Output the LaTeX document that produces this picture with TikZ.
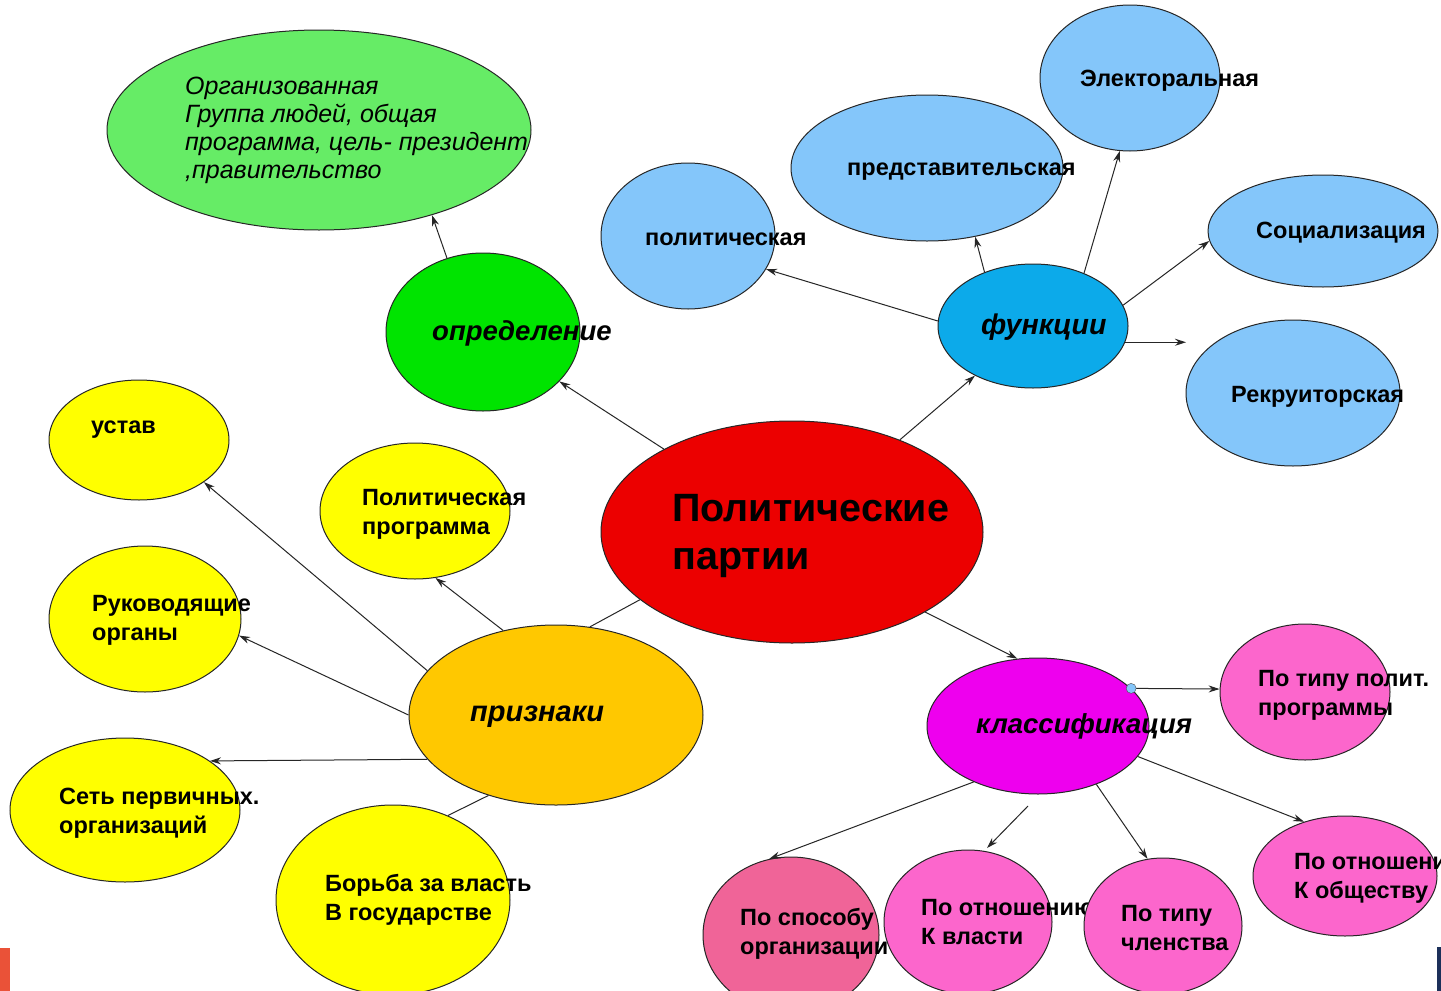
\documentclass[tikz,border=0pt]{standalone}
\usepackage{fontspec}
\setmainfont{Liberation Sans}
\usetikzlibrary{shapes.geometric, arrows.meta}

\definecolor{defgreen}{RGB}{102,236,102}
\definecolor{brightgreen}{RGB}{0,228,0}
\definecolor{partyred}{RGB}{236,0,0}
\definecolor{funcblue}{RGB}{12,170,234}
\definecolor{lightblue}{RGB}{132,198,250}
\definecolor{classmag}{RGB}{238,0,238}
\definecolor{pinkish}{RGB}{252,102,204}
\definecolor{rosepink}{RGB}{240,100,152}
\definecolor{signorange}{RGB}{255,200,0}
\definecolor{signyellow}{RGB}{255,255,0}
\definecolor{barred}{RGB}{234,82,56}
\definecolor{barnavy}{RGB}{28,48,90}

\tikzset{
>={Stealth[length=11pt,width=7pt]}, % small filled arrow heads
bubble/.style 2 args={ellipse, draw=black!85, line width=1pt, minimum width=#1, minimum height=#2, inner sep=0pt}, % every ellipse, size in px
lbl/.style={font=\bfseries\fontsize{23.5}{29}\selectfont, align=left, anchor=west, inner sep=0pt, yshift=-2pt}, % plain labels
keylbl/.style={font=\bfseries\itshape\fontsize{28.5}{32}\selectfont, anchor=west, inner sep=0pt, yshift=-1pt}, % branch names
link/.style={line width=1pt, black!85}, % connectors
}

\begin{document}
\begin{tikzpicture}[x=1pt, y=-1pt]

    \clip (0,0) rectangle (1441,991);
    \fill[white] (0,0) rectangle (1441,991);
    \fill[barred] (0,948) rectangle (10,991);
    \fill[barnavy] (1437,947) rectangle (1441,991);

    % definition branch
    \node[bubble={424pt}{200pt}, fill=defgreen] (green) at (319,130) {};
    \node[lbl, font=\itshape\fontsize{25}{28}\selectfont] (green-t) at (185,128)
        {Организованная\\Группа людей, общая\\программа, цель- президент\\,правительство};
    \node[bubble={194pt}{158pt}, fill=brightgreen] (opred) at (483,332) {};
    \node[keylbl, font=\bfseries\itshape\fontsize{27.5}{32}\selectfont] (opred-t) at (432,332) {определение};

    % centre
    \node[bubble={382pt}{222pt}, fill=partyred] (party) at (792,532) {};
    \node[lbl, font=\bfseries\fontsize{39.5}{48}\selectfont] (party-t) at (672,534) {Политические\\партии};

    % functions branch
    \node[bubble={190pt}{124pt}, fill=funcblue] (funk) at (1033,326) {};
    \node[keylbl] (funk-t) at (981,326) {функции};
    \node[bubble={174pt}{146pt}, fill=lightblue] (polit) at (688,236) {};
    \node[lbl] (polit-t) at (645,237) {политическая};
    \node[bubble={272pt}{146pt}, fill=lightblue] (predst) at (927,168) {};
    \node[lbl] (predst-t) at (847,170) {представительская};
    \node[bubble={180pt}{146pt}, fill=lightblue] (elect) at (1130,78) {};
    \node[lbl] (elect-t) at (1080,79) {Электоральная};
    \node[bubble={230pt}{112pt}, fill=lightblue] (social) at (1323,231) {};
    \node[lbl] (social-t) at (1256,231) {Социализация};
    \node[bubble={214pt}{146pt}, fill=lightblue] (rekr) at (1293,393) {};
    \node[lbl] (rekr-t) at (1231,395) {Рекруиторская};

    % classification branch
    \node[bubble={222pt}{136pt}, fill=classmag] (klass) at (1038,726) {};
    \node[keylbl, font=\bfseries\itshape\fontsize{27.5}{32}\selectfont] (klass-t) at (976,725) {классификация};
    \node[bubble={170pt}{136pt}, fill=pinkish] (tprog) at (1305,692) {};
    \node[lbl] (tprog-t) at (1258,693) {По типу полит.\\программы};
    \node[bubble={184pt}{120pt}, fill=pinkish] (obsch) at (1345,876) {};
    \node[lbl] (obsch-t) at (1294,876) {По отношению\\К обществу};
    \node[bubble={176pt}{156pt}, fill=rosepink] (sposob) at (791,935) {};
    \node[lbl] (sposob-t) at (740,932) {По способу\\организации};
    \node[bubble={168pt}{144pt}, fill=pinkish] (vlast) at (968,922) {};
    \node[lbl] (vlast-t) at (921,920) {По отношению\\К власти};
    \node[bubble={158pt}{136pt}, fill=pinkish] (chlen) at (1163,926) {};
    \node[lbl] (chlen-t) at (1121,926) {По типу\\членства};

    % signs branch
    \node[bubble={294pt}{180pt}, fill=signorange] (priz) at (556,715) {};
    \node[keylbl, font=\bfseries\itshape\fontsize{29}{32}\selectfont] (priz-t) at (470,716) {признаки};
    \node[bubble={180pt}{120pt}, fill=signyellow] (ustav) at (139,440) {};
    \node[lbl] (ustav-t) at (91,428) {устав};
    \node[bubble={190pt}{136pt}, fill=signyellow] (polprog) at (415,511) {};
    \node[lbl] (polprog-t) at (362,512) {Политическая\\программа};
    \node[bubble={192pt}{146pt}, fill=signyellow] (ruk) at (145,619) {};
    \node[lbl] (ruk-t) at (92,618) {Руководящие\\органы};
    \node[bubble={230pt}{144pt}, fill=signyellow] (set) at (125,810) {};
    \node[lbl] (set-t) at (59,811) {Сеть первичных.\\организаций};
    \node[bubble={234pt}{190pt}, fill=signyellow] (borba) at (393,900) {};
    \node[lbl] (borba-t) at (325,898) {Борьба за власть\\В государстве};

    \coordinate (rekr-in) at (1186,343);
    \coordinate (loose-a) at (1028,806);
    \coordinate (loose-b) at (987,848);

    % connectors
    \draw[link, ->] (party) -- (opred);
    \draw[link, ->] (opred.116) -- (green.-37);
    \draw[link, ->] (party) -- (funk);
    \draw[link, ->] (funk.177) -- (polit.-23);
    \draw[link, ->] (funk.132) -- (predst.-55);
    \draw[link, ->] (funk.46) -- (elect.-98);
    \draw[link, ->] (funk.13) -- (social.185);
    \draw[link, ->] (funk.-10) -- (funk.-10 -| rekr-in);
    \draw[link, ->] (party.-31) -- (klass.107);
    \draw[link, ->] (klass.22) -- (tprog.178);
    \draw[link, ->] (klass.-17) -- (obsch.127);
    \draw[link, ->] (klass.221) -- (sposob.106);
    \draw[link, ->] (loose-a) -- (loose-b);
    \draw[link, ->] (klass.-45) -- (chlen.103);
    \draw[link] (party.204) -- (priz.69);
    \draw[link, ->] (priz.122) -- (polprog.-73);
    \draw[link, ->] (priz.161) -- (ustav.-33);
    \draw[link, ->] (priz.180) -- (ruk.-10);
    \draw[link, ->] (priz.199) -- (set.30);
    \draw[link] (priz.230) -- (borba.57);
    \node[circle, draw=black!70, fill=lightblue, minimum size=10pt, inner sep=0pt] (knob) at (klass.22) {};

\end{tikzpicture}
\end{document}
